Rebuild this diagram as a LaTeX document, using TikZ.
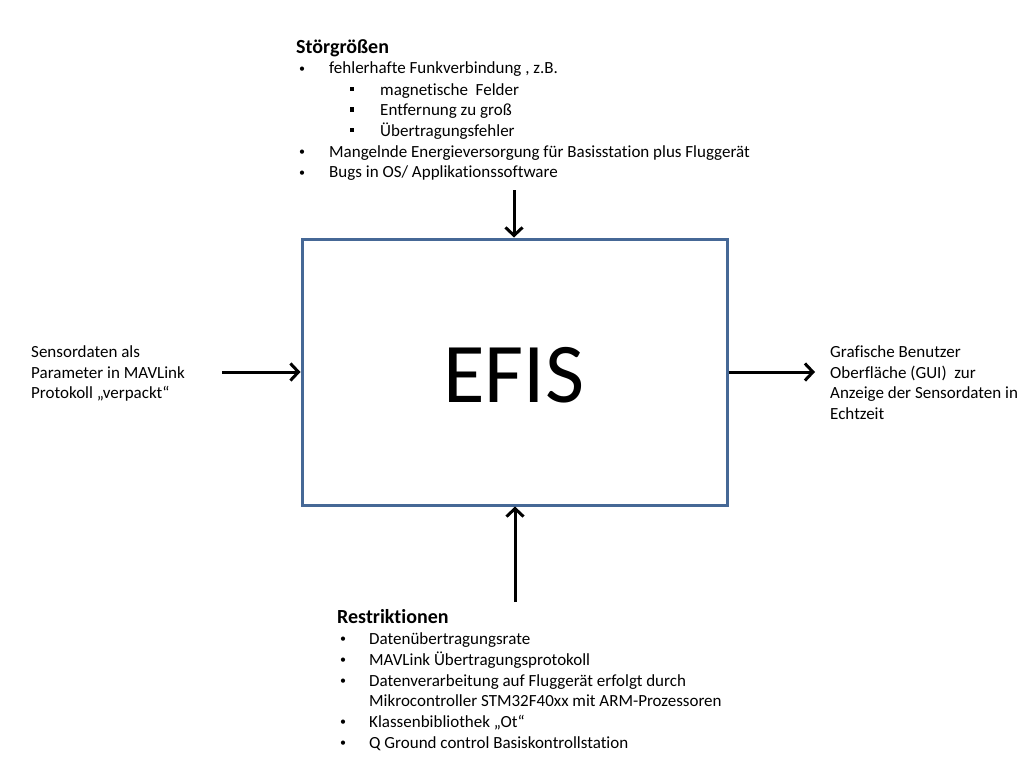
\documentclass[tikz,border=0pt]{standalone}
\usepackage{fontspec}
\setmainfont{Carlito}[Ligatures=NoCommon]
\usetikzlibrary{arrows.meta}
\definecolor{boxblue}{RGB}{70,104,150}
\begin{document}
\begin{tikzpicture}[x=1pt,y=-1pt,
  txt/.style={anchor=base west,inner sep=0pt,font=\fontsize{17}{20}\selectfont},
  head/.style={anchor=base west,inner sep=0pt,font=\fontsize{20}{22}\selectfont\bfseries},
  bul/.style={anchor=base west,inner sep=0pt,font=\fontsize{12}{18}\selectfont},
  sq/.style={fill=black,minimum size=4.5pt,inner sep=0pt},
  arr/.style={line width=3pt,-{Straight Barb[length=8pt,width=17pt,line width=3pt]}},
  efisbox/.style={draw=boxblue,line width=3pt,minimum width=425pt,minimum height=266pt}]
\useasboundingbox (0,0) rectangle (1024,768);
\fill[white] (0,0) rectangle (1024,768);
% box
\node[efisbox] (efis) at (514.5,372) {};
\node[font=\fontsize{85}{95}\selectfont] (efist) at (514,375) {EFIS};
% top
\node[head] (h1) at (296,54) {Störgrößen};
\node[bul] (b1) at (299,72.5) {•};
\node[txt] (t1) at (329,74) {fehlerhafte Funkverbindung , z.B.};
\node[sq] (s1) at (352,89) {};
\node[txt] (t2) at (380,95) {magnetische\ \ Felder};
\node[sq] (s2) at (352,109.5) {};
\node[txt] (t3) at (380,115.5) {Entfernung zu groß};
\node[sq] (s3) at (352,130) {};
\node[txt] (t4) at (380,136) {Übertragungsfehler};
\node[bul] (b2) at (299,155.5) {•};
\node[txt] (t5) at (329,157) {Mangelnde Energieversorgung für Basisstation plus Fluggerät};
\node[bul] (b3) at (299,176) {•};
\node[txt] (t6) at (329,177.5) {Bugs in OS/ Applikationssoftware};
% bottom
\node[head] (h2) at (337,623) {Restriktionen};
\node[bul] (c1) at (340,642.5) {•};
\node[txt] (r1) at (369,644) {Datenübertragungsrate};
\node[bul] (c2) at (340,663.5) {•};
\node[txt] (r2) at (369,665) {MAVLink Übertragungsprotokoll};
\node[bul] (c3) at (340,684.5) {•};
\node[txt] (r3) at (369,686) {Datenverarbeitung auf Fluggerät erfolgt durch};
\node[txt] (r4) at (369,706.5) {Mikrocontroller STM32F40xx mit ARM-Prozessoren};
\node[bul] (c4) at (340,725.5) {•};
\node[txt] (r5) at (369,727) {Klassenbibliothek „Ot“};
\node[bul] (c5) at (340,746.5) {•};
\node[txt] (r6) at (369,748) {Q Ground control Basiskontrollstation};
% left
\node[txt] (l1) at (31,357.5) {Sensordaten als};
\node[txt] (l2) at (31,378) {Parameter in MAVLink};
\node[txt] (l3) at (31,398.5) {Protokoll „verpackt“};
% right
\node[txt] (q1) at (830,357.5) {Grafische Benutzer};
\node[txt] (q2) at (830,378) {Oberfläche (GUI)\ \ zur};
\node[txt] (q3) at (830,398.5) {Anzeige der Sensordaten in};
\node[txt] (q4) at (830,419.5) {Echtzeit};
% arrows
\coordinate (topstart) at (514,190);
\coordinate (leftstart) at (222,372);
\coordinate (rightend) at (815,372);
\coordinate (botstart) at (515,602);
\draw[arr] (topstart) -- (efis.north -| topstart);
\draw[arr] (leftstart) -- (efis.west |- leftstart);
\draw[arr] (efis.east |- rightend) -- (rightend);
\draw[arr] (botstart) -- (efis.south -| botstart);
\end{tikzpicture}
\end{document}
